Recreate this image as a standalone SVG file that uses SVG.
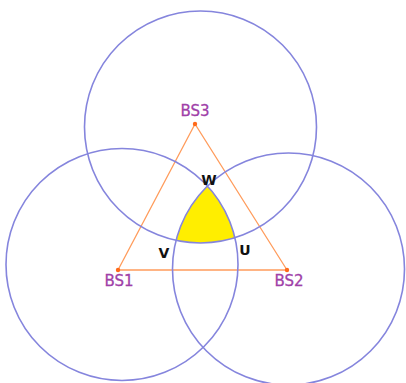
<svg xmlns="http://www.w3.org/2000/svg" width="406" height="383" viewBox="0 0 406 383">
<style>
.cov{fill:none;stroke:#8585dd;stroke-width:1.6}
.edge{stroke:#ff9c5c;stroke-width:1.3;fill:none}
.dot{fill:#ff6a1a}
.bs{font-family:"DejaVu Sans",Verdana,sans-serif;font-size:15px;fill:#a040a8;text-anchor:middle;stroke:#a040a8;stroke-width:0.3}
.pt{font-family:"DejaVu Sans",Verdana,sans-serif;font-size:14px;font-weight:bold;fill:#111;text-anchor:middle}
</style>
<defs>
<clipPath id="c2"><circle cx="288.5" cy="269" r="116"/></clipPath>
<clipPath id="c3"><circle cx="200.5" cy="127" r="116"/></clipPath>
</defs>
<rect width="406" height="383" fill="#fff"/>
<g id="region" clip-path="url(#c3)"><g clip-path="url(#c2)"><circle cx="122" cy="264.5" r="116" fill="#ffee00"/></g></g>
<g id="connectors">
<polyline class="edge" points="118,270 287,270 195,124 118,270"/>
</g>
<g id="circles">
<circle class="cov" cx="200.5" cy="127" r="116"/>
<circle class="cov" cx="122" cy="264.5" r="116"/>
<circle class="cov" cx="288.5" cy="269" r="116"/>
</g>
<g id="BS1"><circle class="dot" cx="118" cy="270" r="2.2"/><text class="bs" x="119" y="286">BS1</text></g>
<g id="BS2"><circle class="dot" cx="287" cy="270" r="2.2"/><text class="bs" x="289" y="286">BS2</text></g>
<g id="BS3"><circle class="dot" cx="195" cy="124" r="2.2"/><text class="bs" x="195" y="116">BS3</text></g>
<g id="W"><text class="pt" x="209" y="185">W</text></g>
<g id="U"><text class="pt" x="245" y="255">U</text></g>
<g id="V"><text class="pt" x="164" y="258">V</text></g>
</svg>
